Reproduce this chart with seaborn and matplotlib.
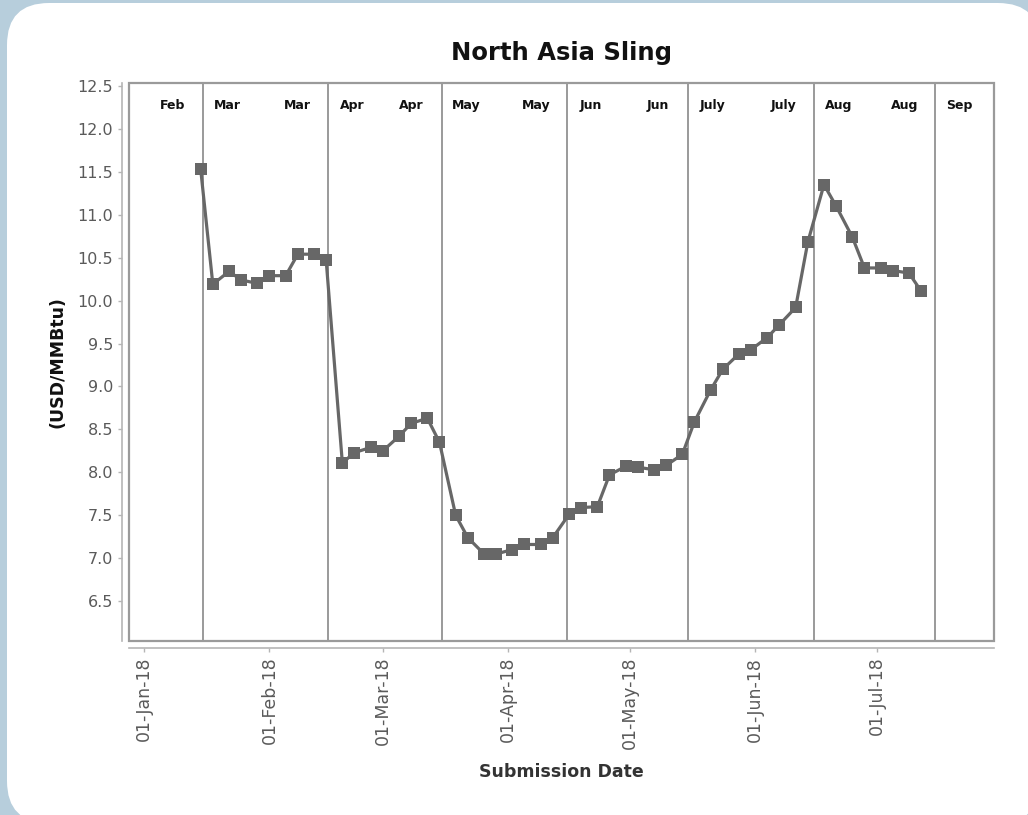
"""North Asia Sling price chart, recreated with seaborn."""

import matplotlib

matplotlib.use("Agg")

import matplotlib.dates as mdates
import matplotlib.pyplot as plt
import matplotlib.transforms as mtransforms
import numpy as np
import pandas as pd
import seaborn as sns
from matplotlib.patches import FancyBboxPatch, Rectangle
from matplotlib.ticker import FormatStrFormatter

# Submission dates (Mon/Thu) and assessed prices
submission_dates = [
    "2018-01-15", "2018-01-18", "2018-01-22", "2018-01-25", "2018-01-29",
    "2018-02-01", "2018-02-05", "2018-02-08", "2018-02-12", "2018-02-15",
    "2018-02-19", "2018-02-22", "2018-02-26", "2018-03-01", "2018-03-05",
    "2018-03-08", "2018-03-12", "2018-03-15", "2018-03-19", "2018-03-22",
    "2018-03-26", "2018-03-29", "2018-04-02", "2018-04-05", "2018-04-09",
    "2018-04-12", "2018-04-16", "2018-04-19", "2018-04-23", "2018-04-26",
    "2018-04-30", "2018-05-03", "2018-05-07", "2018-05-10", "2018-05-14",
    "2018-05-17", "2018-05-21", "2018-05-24", "2018-05-28", "2018-05-31",
    "2018-06-04", "2018-06-07", "2018-06-11", "2018-06-14", "2018-06-18",
    "2018-06-21", "2018-06-25", "2018-06-28", "2018-07-02", "2018-07-05",
    "2018-07-09", "2018-07-12",
]
prices = [
    11.53, 10.19, 10.34, 10.24, 10.20,
    10.29, 10.29, 10.54, 10.54, 10.47,
    8.11, 8.23, 8.29, 8.25, 8.42,
    8.57, 8.63, 8.35, 7.50, 7.24,
    7.05, 7.05, 7.10, 7.16, 7.16,
    7.24, 7.51, 7.59, 7.60, 7.97,
    8.07, 8.06, 8.03, 8.08, 8.21,
    8.59, 8.96, 9.20, 9.38, 9.43,
    9.57, 9.72, 9.92, 10.68, 11.35,
    11.10, 10.74, 10.38, 10.38, 10.35,
    10.32, 10.11,
]

# Delivery-month roll dates and the contract month labels for each period
roll_dates = [
    "2018-01-15 12:00", "2018-02-15 12:00", "2018-03-15 12:00", "2018-04-15 12:00",
    "2018-05-15 12:00", "2018-06-15 12:00", "2018-07-15 12:00",
]
contract_months = ["Feb", "Mar", "Apr", "May", "Jun", "July", "Aug", "Sep"]

df = pd.DataFrame({"date": pd.to_datetime(submission_dates), "price": prices})
rolls = pd.to_datetime(roll_dates)

sns.set_style("white")
plt.rcParams["font.family"] = ["DejaVu Sans"]

fig = plt.figure(figsize=(10.28, 8.15), dpi=100)
fig.patch.set_facecolor("#b7cedc")
# white rounded panel, in pixel coordinates
panel = FancyBboxPatch(
    (7, -8), 1033, 820,
    boxstyle="round,pad=0,rounding_size=42",
    transform=mtransforms.IdentityTransform(),
    facecolor="white", edgecolor="none", zorder=-5,
)
fig.patches.append(panel)

ax = fig.add_axes([0.1255, 0.2139, 0.8414, 0.6839])
ax.set_facecolor("white")

for d in rolls:
    ax.axvline(d, color="#9a9a9a", linewidth=1.4, zorder=1)

sns.lineplot(
    data=df, x="date", y="price", ax=ax,
    color="#676767", linewidth=2.3, marker="s", markersize=9,
    markeredgewidth=0, zorder=3,
)

ax.set_xlim(pd.Timestamp("2017-12-28 07:00"), pd.Timestamp("2018-07-30"))
ax.set_ylim(6.04, 12.53)

# contract month labels at the top of each period
trans = mtransforms.blended_transform_factory(ax.transData, ax.transAxes)
for i, month in enumerate(contract_months):
    spots = []
    if i > 0:
        spots.append(rolls[i - 1] + pd.Timedelta(days=6))
    if i < len(rolls):
        spots.append(rolls[i] - pd.Timedelta(days=7.5))
    for x in spots:
        ax.text(x, 0.96, month, transform=trans, ha="center", va="center",
                fontsize=9, fontweight="bold", color="#111111")

# plot outline box plus offset axis lines
ax.add_patch(Rectangle((0, 0), 1, 1, transform=ax.transAxes, fill=False,
                       edgecolor="#9a9a9a", linewidth=1.6, clip_on=False, zorder=4))
for side in ["top", "right"]:
    ax.spines[side].set_visible(False)
for side in ["left", "bottom"]:
    ax.spines[side].set_position(("outward", 5))
    ax.spines[side].set_color("#b5b5b5")
    ax.spines[side].set_linewidth(1.2)

ax.set_yticks(np.arange(6.5, 12.51, 0.5))
ax.yaxis.set_major_formatter(FormatStrFormatter("%.1f"))
ax.xaxis.set_major_locator(mdates.MonthLocator())
ax.xaxis.set_major_formatter(mdates.DateFormatter("%d-%b-%y"))
ax.tick_params(axis="both", colors="#b5b5b5", labelcolor="#5a5a5a",
               length=3, width=1, labelsize=11.5, direction="out",
               left=True, bottom=True)
ax.tick_params(axis="x", labelrotation=90, labelsize=12.5)

ax.set_xlabel("Submission Date", fontsize=12.5, fontweight="bold",
              color="#333333", labelpad=10)
ax.set_ylabel("(USD/MMBtu)", fontsize=12.5, fontweight="bold",
              color="#111111", labelpad=8)
ax.set_title("North Asia Sling", fontsize=17.5, fontweight="bold",
             color="#111111", pad=17)

fig.savefig("out.png", dpi=100, facecolor=fig.get_facecolor())
